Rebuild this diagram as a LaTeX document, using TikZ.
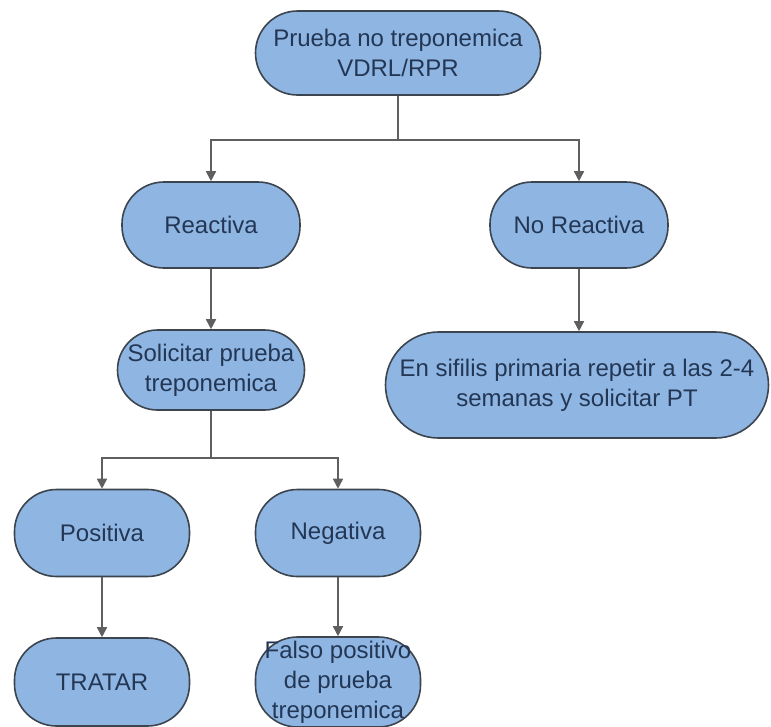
\documentclass[tikz,border=0pt]{standalone}
\usepackage{fontspec}
\setmainfont{Liberation Sans}
\usetikzlibrary{arrows.meta}
\definecolor{boxfill}{RGB}{143,181,226}
\definecolor{boxline}{RGB}{60,68,78}
\definecolor{txt}{RGB}{35,55,85}
\definecolor{conn}{RGB}{95,95,95}
\tikzset{
  box/.style={draw=boxline, line width=1.6pt, fill=boxfill, rounded corners=42pt,
    align=center, text=txt, font=\fontsize{24}{30}\selectfont, inner sep=1pt},
  conn/.style={draw=conn, line width=1.6pt},
  arr/.style={conn, -{Triangle[width=10pt,length=10pt]}}
}
\begin{document}
\begin{tikzpicture}[x=1pt,y=-1pt]
\useasboundingbox (0,0) rectangle (771,726);
\node[box, minimum width=285pt, minimum height=84pt] (top) at (398,53) {Prueba no treponemica\\VDRL/RPR};
\node[box, minimum width=178pt, minimum height=86pt] (rea) at (211,225) {Reactiva};
\node[box, minimum width=178pt, minimum height=86pt] (nor) at (579,225) {No Reactiva};
\node[box, minimum width=187pt, minimum height=80pt, rounded corners=40pt] (sol) at (211,370) {Solicitar prueba\\treponemica};
\node[box, minimum width=383pt, minimum height=106pt, rounded corners=53pt] (sif) at (577,385) {En sifilis primaria repetir a las 2-4\\semanas y solicitar PT};
\node[box, minimum width=175pt, minimum height=87pt] (pos) at (102,533) {Positiva};
\node[box, minimum width=165pt, minimum height=87pt] (neg) at (338,533) {Negativa};
\node[box, minimum width=175pt, minimum height=88pt] (tra) at (102,682) {TRATAR};
\node[box, minimum width=165pt, minimum height=90pt] (fal) at (338,682) {Falso positivo\\de prueba\\treponemica};
\coordinate (j1) at (398,140);
\coordinate (j2) at (211,458);
\draw[conn] (top.south) -- (j1);
\draw[arr] (j1) -| (rea.north);
\draw[arr] (j1) -| (nor.north);
\draw[arr] (rea.south) -- (sol.north);
\draw[arr] (nor.south) -- (nor.south |- sif.north);
\draw[conn] (sol.south) -- (j2);
\draw[arr] (j2) -| (pos.north);
\draw[arr] (j2) -| (neg.north);
\draw[arr] (pos.south) -- (tra.north);
\draw[arr] (neg.south) -- (fal.north);
\end{tikzpicture}
\end{document}
